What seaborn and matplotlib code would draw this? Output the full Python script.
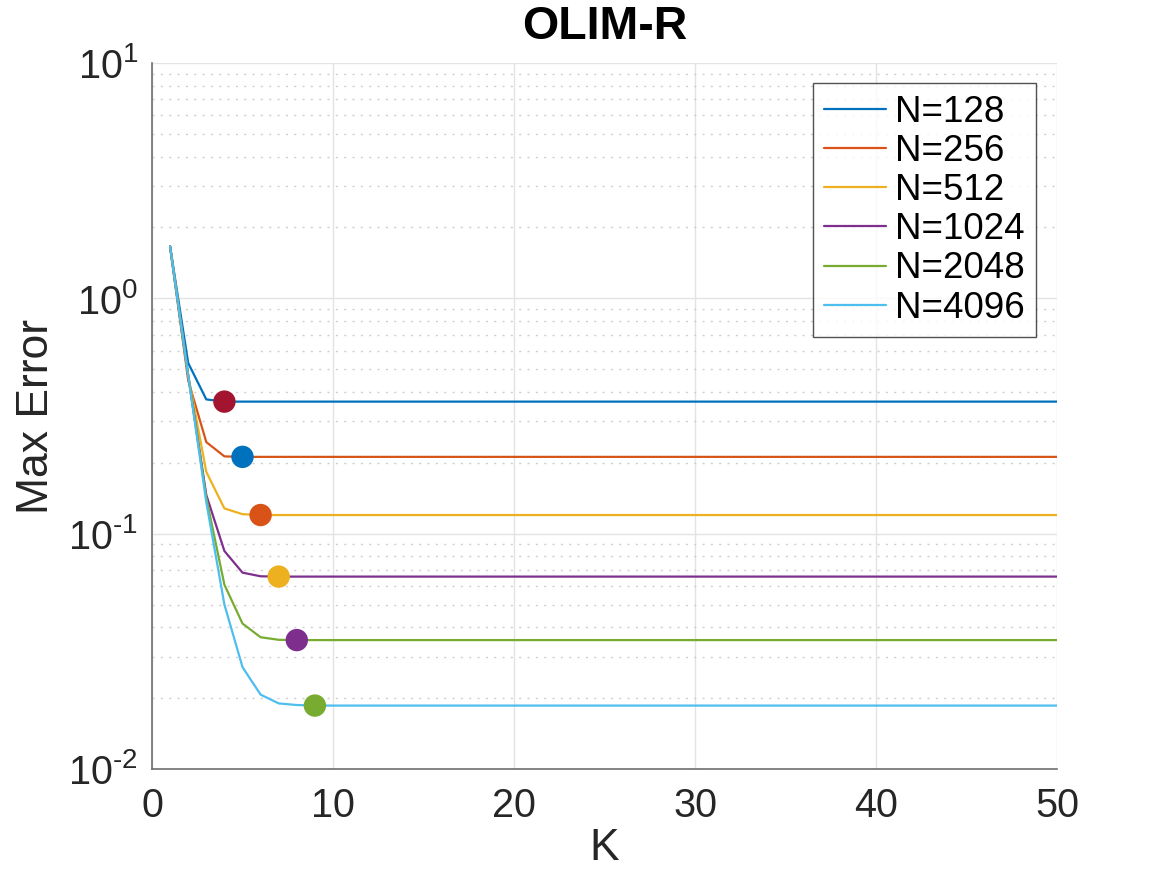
import numpy as np
import pandas as pd
import matplotlib
matplotlib.use("Agg")
import matplotlib.pyplot as plt
import seaborn as sns
from matplotlib.ticker import LogLocator, NullFormatter

# ---- data ----
K = [1, 2, 3, 4, 5, 6, 7, 8, 9, 10, 50]
err_128  = [1.66, 0.531, 0.372, 0.364, 0.364, 0.364, 0.364, 0.364, 0.364, 0.364, 0.364]
err_256  = [1.66, 0.448, 0.245, 0.213, 0.212, 0.212, 0.212, 0.212, 0.212, 0.212, 0.212]
err_512  = [1.66, 0.470, 0.183, 0.128, 0.121, 0.120, 0.120, 0.120, 0.120, 0.120, 0.120]
err_1024 = [1.66, 0.470, 0.146, 0.0844, 0.0683, 0.0659, 0.0657, 0.0657, 0.0657, 0.0657, 0.0657]
err_2048 = [1.66, 0.470, 0.142, 0.0607, 0.0415, 0.0363, 0.0354, 0.0353, 0.0353, 0.0353, 0.0353]
err_4096 = [1.66, 0.470, 0.136, 0.0500, 0.0271, 0.0207, 0.0190, 0.0187, 0.0186, 0.0186, 0.0186]
series_labels = ["N=128", "N=256", "N=512", "N=1024", "N=2048", "N=4096"]
series_values = [err_128, err_256, err_512, err_1024, err_2048, err_4096]

marker_K = [4, 5, 6, 7, 8, 9]
marker_err = [0.364, 0.212, 0.120, 0.0657, 0.0353, 0.0186]

x_ticks = [0, 10, 20, 30, 40, 50]
y_ticks = [1e-2, 1e-1, 1e0, 1e1]
y_tick_labels = [r"$\mathregular{10^{\text{-}2}}$", r"$\mathregular{10^{\text{-}1}}$",
                 r"$\mathregular{10^{0}}$", r"$\mathregular{10^{1}}$"]

line_colors = ["#0072BD", "#D95319", "#EDB120", "#7E2F8E", "#77AC30", "#4DBEEE"]
marker_colors = ["#A2142F", "#0072BD", "#D95319", "#EDB120", "#7E2F8E", "#77AC30"]

# ---- build long-form table ----
rows = []
for lab, vals in zip(series_labels, series_values):
    for k, v in zip(K, vals):
        rows.append({"K": k, "err": v, "N": lab})
df = pd.DataFrame(rows)

sns.set_style("white")
plt.rcParams["font.family"] = ["Liberation Sans", "DejaVu Sans"]
plt.rcParams["mathtext.fontset"] = "custom"
plt.rcParams["mathtext.rm"] = "Liberation Sans"

fig = plt.figure(figsize=(11.67, 8.75), dpi=100)
ax = fig.add_axes([152/1167, 1-769/875, (1057-152)/1167, (769-63)/875])

sns.lineplot(data=df, x="K", y="err", hue="N", palette=line_colors,
             hue_order=series_labels, linewidth=1.6, ax=ax, legend=True)
for i in range(len(marker_K)):
    sns.scatterplot(x=[marker_K[i]], y=[marker_err[i]], color=marker_colors[i],
                    s=260, edgecolor="none", ax=ax, legend=False, zorder=5)

ax.set_yscale("log")
ax.set_xlim(0, 50)
ax.set_ylim(1e-2, 1e1)
ax.set_xticks(x_ticks)
ax.set_yticks(y_ticks)
ax.set_yticklabels(y_tick_labels)
ax.yaxis.set_minor_locator(LogLocator(base=10, subs=np.arange(2, 10)))
ax.yaxis.set_minor_formatter(NullFormatter())

ax.grid(True, which="major", color="#e3e3e3", linewidth=1.0, linestyle="-")
ax.grid(True, which="minor", axis="y", color="#cfcfcf", linewidth=1.0,
        linestyle=(0, (1.5, 4.5)))
ax.set_axisbelow(True)

for side in ["top", "right"]:
    ax.spines[side].set_visible(False)
for side in ["left", "bottom"]:
    ax.spines[side].set_color("#6e6e6e")
    ax.spines[side].set_linewidth(1.2)

ax.tick_params(axis="both", which="major", direction="in", length=8,
               width=1.0, color="#6e6e6e", labelsize=28.5, labelcolor="#262626", pad=10)
ax.tick_params(axis="y", which="minor", direction="in", length=5, width=1.0,
               color="#6e6e6e")
ax.tick_params(axis="x", which="major", pad=13)

ax.set_xlabel("K", fontsize=32, color="#262626", labelpad=2)
ax.set_ylabel("Max Error", fontsize=32, color="#262626", labelpad=8)
ax.set_title("OLIM-R", fontsize=33.5, fontweight="bold", color="black", pad=17)

leg = ax.legend(loc="upper right", bbox_to_anchor=(0.977, 0.971), fontsize=26.5,
                frameon=True, fancybox=False, edgecolor="#262626",
                handlelength=1.7, handletextpad=0.25, labelspacing=0.115,
                borderpad=0.3, borderaxespad=0.0)
leg.get_frame().set_linewidth(1.0)
for t in leg.get_texts():
    t.set_color("black")
for line in leg.get_lines():
    line.set_linewidth(1.6)

fig.savefig("out.png", dpi=100)
